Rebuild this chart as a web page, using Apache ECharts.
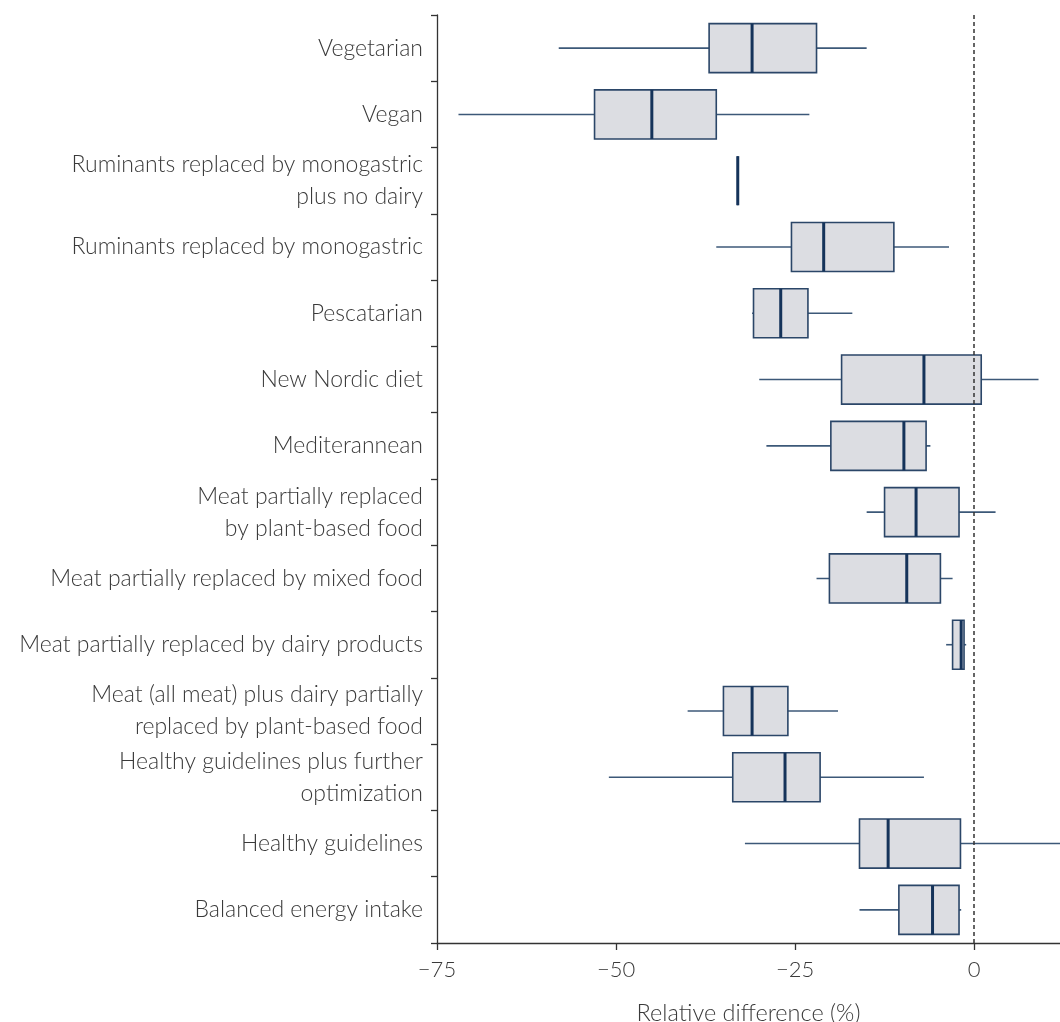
<!DOCTYPE html>
<html>
<head>
<meta charset="utf-8">
<script src="https://cdn.jsdelivr.net/npm/echarts@6/dist/echarts.min.js"></script>
<style>
html,body{margin:0;padding:0;background:#fff;}
#chart{width:1060px;height:1022px;}
</style>
</head>
<body>
<div id="chart"></div>
<script>
const categories = [
  "Vegetarian",
  "Vegan",
  "Ruminants replaced by monogastric\nplus no dairy",
  "Ruminants replaced by monogastric",
  "Pescatarian",
  "New Nordic diet",
  "Mediterannean",
  "Meat partially replaced\nby plant-based food",
  "Meat partially replaced by mixed food",
  "Meat partially replaced by dairy products",
  "Meat (all meat) plus dairy partially\nreplaced by plant-based food",
  "Healthy guidelines plus further\noptimization",
  "Healthy guidelines",
  "Balanced energy intake"
];
const whiskerLow  = [-58, -72, -33, -36, -31, -30, -29, -15, -22, -3.9, -40, -51, -32, -16];
const q1          = [-37, -53, -33, -25.5, -30.8, -18.5, -20, -12.5, -20.2, -3.0, -35, -33.7, -16, -10.5];
const median      = [-31, -45, -33, -21, -27, -7, -9.8, -8.1, -9.4, -1.8, -31, -26.4, -12, -5.8];
const q3          = [-22, -36, -33, -11.2, -23.2, 1, -6.7, -2.1, -4.7, -1.4, -26, -21.5, -1.9, -2.1];
const whiskerHigh = [-15, -23, -33, -3.5, -17, 9, -6.1, 3, -3, -1.1, -19, -7, 15, -1.8];
const xTicks = [-75, -50, -25, 0];
const refValue = 0;

const data = categories.map((c, i) => [i, whiskerLow[i], q1[i], median[i], q3[i], whiskerHigh[i]]);

const FONT = 'Lato, "Open Sans", sans-serif';
const chart = echarts.init(document.getElementById('chart'));
chart.setOption({
  animation: false,
  grid: { left: 437, right: 0, top: 15, bottom: 79, containLabel: false, outerBoundsMode: 'none' },
  xAxis: {
    type: 'value',
    min: -75,
    max: 12,
    interval: 25,
    splitLine: { show: false },
    axisLine: { show: true, onZero: false, lineStyle: { color: '#333', width: 1.3 } },
    axisTick: { show: true, length: 7, customValues: xTicks, lineStyle: { color: '#333', width: 1.3 } },
    axisLabel: {
      customValues: xTicks,
      margin: 16,
      fontSize: 22,
      fontFamily: FONT,
      fontWeight: 300,
      color: '#3a3a3a',
      formatter: v => String(v).replace('-', '\u2212')
    },
    name: 'Relative difference (%)',
    nameLocation: 'middle',
    nameGap: 58,
    nameTextStyle: { fontSize: 23.5, fontFamily: FONT, fontWeight: 300, color: '#3a3a3a' }
  },
  yAxis: {
    type: 'category',
    data: categories,
    inverse: true,
    axisLine: { show: true, onZero: false, lineStyle: { color: '#333', width: 1.3 } },
    axisTick: { show: true, length: 6, alignWithLabel: false, lineStyle: { color: '#333', width: 1.3 } },
    splitLine: { show: false },
    axisLabel: {
      margin: 14,
      fontSize: 23,
      lineHeight: 32,
      padding: [0, 0, 4, 0],
      fontFamily: FONT,
      fontWeight: 300,
      color: '#3a3a3a',
      align: 'right'
    }
  },
  series: [{
    type: 'custom',
    data: data,
    encode: { x: [1, 2, 3, 4, 5], y: 0 },
    renderItem: function (params, api) {
      const cat = api.value(0);
      const pLow = api.coord([api.value(1), cat]);
      const pQ1 = api.coord([api.value(2), cat]);
      const pMed = api.coord([api.value(3), cat]);
      const pQ3 = api.coord([api.value(4), cat]);
      const pHigh = api.coord([api.value(5), cat]);
      const h = api.size([0, 1])[1] * 0.74;
      const y = pMed[1];
      return {
        type: 'group',
        children: [
          { type: 'line', shape: { x1: pLow[0], y1: y, x2: pHigh[0], y2: y },
            style: { stroke: '#3c5878', lineWidth: 1.6 } },
          { type: 'rect', shape: { x: pQ1[0], y: y - h / 2, width: pQ3[0] - pQ1[0], height: h },
            style: { fill: '#dcdde2', stroke: '#2b4668', lineWidth: 1.6 } },
          { type: 'line', shape: { x1: pMed[0], y1: y - h / 2, x2: pMed[0], y2: y + h / 2 },
            style: { stroke: '#15335a', lineWidth: 3 } }
        ]
      };
    },
    markLine: {
      silent: true,
      symbol: ['none', 'none'],
      z: 10,
      label: { show: false },
      lineStyle: { color: '#333', width: 1.5, type: [4, 3] },
      data: [{ xAxis: refValue }]
    },
    z: 2
  }]
});
</script>
</body>
</html>
